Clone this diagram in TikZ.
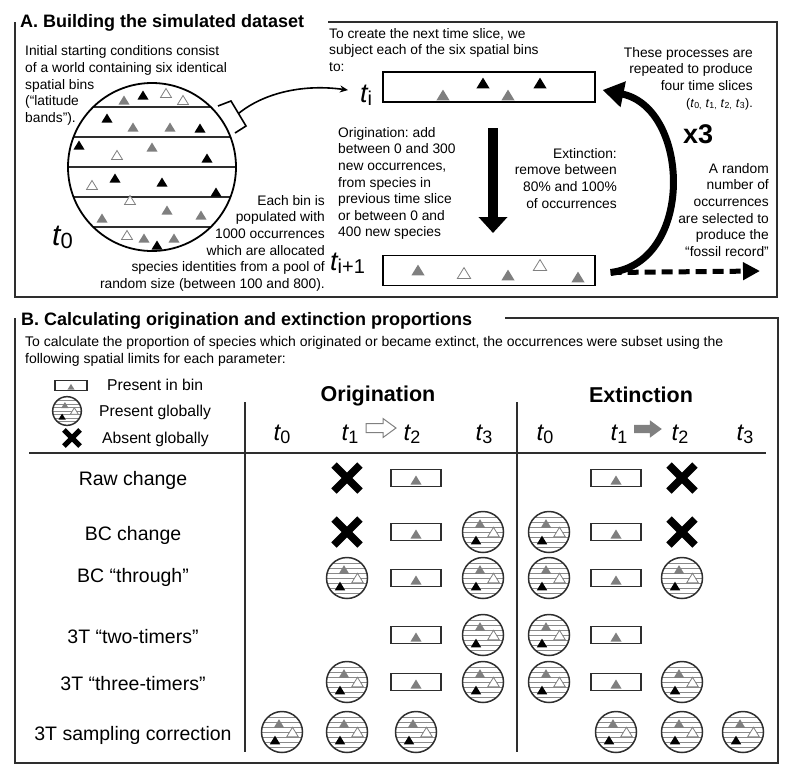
\documentclass[tikz,border=0pt]{standalone}
\usepackage{fontspec}
\setmainfont{Liberation Sans}
\usetikzlibrary{arrows.meta}
\frenchspacing

\definecolor{trigray}{HTML}{7F7F7F}
\definecolor{bandgray}{HTML}{8A8A8A}
\definecolor{framegray}{HTML}{2E2E2E}

\newcommand{\tvar}[3]{{\fontsize{#1}{#1}\selectfont\itshape t}{\fontsize{#2}{#2}\selectfont\raisebox{-0.18em}{#3}}}
\newcommand{\tri}[3][]{\path[shift={(#2,#3)},#1] (-5.5,4.5) -- (5.5,4.5) -- (0,-4.5) -- cycle;}
\newcommand{\blockarrow}[3][]{\path[shift={(#2,#3)},#1] (-15,-4.5) -- (2,-4.5) -- (2,-9.5) -- (15,0) -- (2,9.5) -- (2,4.5) -- (-15,4.5) -- cycle;}

\tikzset{
  triG/.style={fill=trigray},
  triB/.style={fill=black},
  triW/.style={draw=gray, fill=white, line width=0.8pt},
  xmark/.style={line width=7.5pt},
  frame/.style={draw=framegray, line width=1.5pt},
  slicebox/.style={draw, line width=1.3pt, minimum width=212pt, minimum height=30pt, inner sep=0pt},
  txt/.style={font=\fontsize{13.8}{16.6}\selectfont, inner sep=0pt},
  ttl/.style={font=\fontsize{18}{20}\selectfont\bfseries, inner sep=0pt, anchor=base west},
  colhead/.style={font=\fontsize{21.5}{24}\selectfont\bfseries, inner sep=0pt, anchor=base},
  tlab/.style={inner sep=0pt, anchor=base},
  rowlab/.style={font=\fontsize{19.5}{22}\selectfont, inner sep=0pt, anchor=base},
  legtxt/.style={font=\fontsize{15.7}{18}\selectfont, inner sep=0pt, anchor=west},
  globe/.pic={
    \begin{scope}
      \clip (0,0) circle (20.5);
      \foreach \h in {-15,-10,...,15}
        \draw[bandgray, line width=0.9pt] (-21,\h) -- (21,\h);
    \end{scope}
    \draw[framegray, line width=1.5pt] (0,0) circle (20.5);
    \tri[triG, scale=0.95]{-3}{-8.5}
    \tri[triW, scale=1.05]{10.5}{0}
    \tri[triB, scale=0.95]{-7}{8}
  },
  bin/.pic={
    \draw[framegray, line width=1.1pt] (-25,-8.5) rectangle (25,8.5);
    \tri[triG]{0}{2}
  },
  cross/.pic={
    \draw[xmark] (-13,-13) -- (13,13) (-13,13) -- (13,-13);
  },
}

\begin{document}
\begin{tikzpicture}[x=1pt, y=-1pt]
\useasboundingbox (0,0) rectangle (790,772);

% A. simulation
\node[ttl] (titleA) at (20,27) {A. Building the simulated dataset};
\draw[frame] (328,22) -- (777,22) -- (777,297) -- (15,297) -- (15,22);

\node[txt, align=left, anchor=north west] (start) at (25,45.6) {Initial starting conditions consist\\of a world containing six identical\\spatial bins\\(“latitude\\bands”).};

\begin{scope}
  \clip (152,167) circle (84);
  \foreach \h in {107,137,...,227}
    \draw[framegray, line width=1.6pt] (60,\h) -- (250,\h);
\end{scope}
\draw[line width=1.8pt] (152,167) circle (84);
\tri[triG]{124}{100} \tri[triB]{143}{95} \tri[triW]{166}{93} \tri[triW]{183}{100}
\tri[triB]{107}{118} \tri[triG]{133}{127} \tri[triG]{170}{127} \tri[triB]{200}{128}
\tri[triB]{79}{145} \tri[triW]{117}{155} \tri[triG]{152}{147} \tri[triB]{207}{158}
\tri[triW]{92}{185} \tri[triB]{115}{178} \tri[triB]{162}{182} \tri[triB]{216}{192}
\tri[triG]{102}{218} \tri[triW]{130}{200} \tri[triG]{167}{210} \tri[triG]{201}{215}
\tri[triW]{127}{235} \tri[triG]{144}{238} \tri[triB]{157}{245} \tri[triG]{174}{238}
\node[tlab, anchor=base west] (t0) at (52,245) {\tvar{30}{22}{0}};

\node[txt, align=right, anchor=north east] (bins) at (325,195) {Each bin is\\populated with\\1000 occurrences\\which are allocated\\species identities from a pool of\\random size (between 100 and 800).};

\draw[line width=1.6pt] (218,106) -- (231,101) -- (246,126) -- (235,133);
\coordinate (brk) at (238.5,113.5);

\node[txt, align=left, anchor=north west] (create) at (329,28) {To create the next time slice, we\\subject each of the six spatial bins\\to:};
\node[tlab, anchor=base west] (ti) at (360,102) {\tvar{27}{20}{i}};
\draw[line width=1.6pt, -{Stealth[length=8pt,width=7pt]}] (brk) .. controls (265,92) and (305,84) .. ([xshift=-12pt,yshift=5pt]ti.west);

\node[slicebox] (slice) at (489,87) {};
\tri[triG,scale=1.2]{443}{95} \tri[triB,scale=1.2]{483}{83} \tri[triG,scale=1.2]{508}{95} \tri[triB,scale=1.2]{540}{83}

\node[txt, align=left, anchor=north west] (orig) at (338,127) {Origination: add\\between 0 and 300\\new occurrences,\\from species in\\previous time slice\\or between 0 and\\400 new species};
\coordinate (stepA) at (493,128);
\coordinate (stepB) at (493,233);
\draw[line width=10pt, -{Triangle[width=28pt,length=16pt]}] (stepA) -- (stepB);
\node[txt, align=right, anchor=north east] (ext) at (617,148) {Extinction:\\remove between\\80\% and 100\%\\of occurrences};

\node[tlab, anchor=base west] (tnext) at (330,270) {\tvar{27}{20}{i+1}};
\node[slicebox] (next) at (489,270.5) {};
\tri[triG,scale=1.2]{418}{270} \tri[triW,scale=1.2]{464}{273} \tri[triG,scale=1.2]{508}{275} \tri[triW,scale=1.2]{540}{265} \tri[triG,scale=1.2]{578}{277}

\node[txt, align=right, anchor=north east] (repeat) at (753,47) {These processes are\\repeated to produce\\four time slices\\{\fontsize{12.5}{14}\selectfont(\textit{t}\textsubscript{0,} \textit{t}\textsubscript{1,} \textit{t}\textsubscript{2,} \textit{t}\textsubscript{3}).}};
\node[font=\fontsize{27}{27}\selectfont\bfseries, anchor=base west, inner sep=0pt] (times) at (683,143) {x3};
\node[txt, align=right, anchor=north east] (sample) at (769,163) {A random\\number of\\occurrences\\are selected to\\produce the\\“fossil record”};

\coordinate (loopS) at ([xshift=15pt,yshift=-2pt]next.east);
\coordinate (fossil) at (760,271);
\draw[line width=7pt, -{Triangle[width=25pt,length=21pt]}] (loopS) .. controls (695,262) and (690,108) .. ([xshift=7pt,yshift=-3pt]slice.east);
\draw[line width=5pt, dash pattern=on 11pt off 6pt, -{Triangle[width=17pt,length=17pt]}] (loopS) -- (fossil);

% B. proportions
\node[ttl] (titleB) at (21,325) {B. Calculating origination and extinction proportions};
\draw[frame] (505,318) -- (778,318) -- (778,763) -- (15,763) -- (15,318);
\node[font=\fontsize{14}{17}\selectfont, inner sep=0pt, align=left, anchor=north west] (intro) at (25,336) {To calculate the proportion of species which originated or became extinct, the occurrences were subset using the\\following spatial limits for each parameter:};

\pic[scale=0.64] at (71,385.5) {bin};
\node[legtxt] (lbin) at (107,385) {Present in bin};
\pic[scale=0.7] at (67,411) {globe};
\node[legtxt] (lglobe) at (99,412) {Present globally};
\pic[scale=0.62, xmark/.style={line width=5pt}] at (72,438) {cross};
\node[legtxt] (labsent) at (102,439) {Absent globally};

\node[colhead] (horig) at (378,401) {Origination};
\node[colhead] (hext) at (641,402) {Extinction};
\node[tlab] (ot0) at (282,440) {\tvar{24}{18}{0}};
\node[tlab] (ot1) at (350,440) {\tvar{24}{18}{1}};
\node[tlab] (ot2) at (412,440) {\tvar{24}{18}{2}};
\node[tlab] (ot3) at (484,440) {\tvar{24}{18}{3}};
\node[tlab] (et0) at (545,440) {\tvar{24}{18}{0}};
\node[tlab] (et1) at (619,440) {\tvar{24}{18}{1}};
\node[tlab] (et2) at (680,440) {\tvar{24}{18}{2}};
\node[tlab] (et3) at (745,440) {\tvar{24}{18}{3}};
\blockarrow[draw=gray, fill=white, line width=1pt]{381}{428}
\blockarrow[fill=gray, scale=0.92]{648}{429}

\draw[frame] (245,402) -- (245,752);
\draw[frame] (517,402) -- (517,752);
\draw[frame] (29,453) -- (766,453);

\node[rowlab] (raw) at (133,485) {Raw change};
\node[rowlab] (bc) at (133,540) {BC change};
\node[rowlab] (bct) at (133,582) {BC “through”};
\node[rowlab] (two) at (133,643) {3T “two-timers”};
\node[rowlab] (three) at (133,690) {3T “three-timers”};
\node[rowlab] (samp) at (133,740) {3T sampling correction};

% raw change
\pic at (347,478) {cross}; \pic at (416,478) {bin};
\pic at (616,478) {bin}; \pic at (682,478) {cross};
% BC change
\pic at (347,532) {cross}; \pic at (416,532) {bin}; \pic at (483,532) {globe};
\pic at (549,532) {globe}; \pic at (616,532) {bin}; \pic at (682,532) {cross};
% BC through
\pic at (347,578) {globe}; \pic at (416,578) {bin}; \pic at (483,578) {globe};
\pic at (549,578) {globe}; \pic at (616,578) {bin}; \pic at (682,578) {globe};
% two-timers
\pic at (416,635) {bin}; \pic at (483,635) {globe};
\pic at (549,635) {globe}; \pic at (616,635) {bin};
% three-timers
\pic at (347,682) {globe}; \pic at (416,682) {bin}; \pic at (483,682) {globe};
\pic at (549,682) {globe}; \pic at (616,682) {bin}; \pic at (682,682) {globe};
% sampling correction
\pic at (282,732) {globe}; \pic at (347,732) {globe}; \pic at (416,732) {globe};
\pic at (616,732) {globe}; \pic at (682,732) {globe}; \pic at (743,732) {globe};
\end{tikzpicture}
\end{document}
